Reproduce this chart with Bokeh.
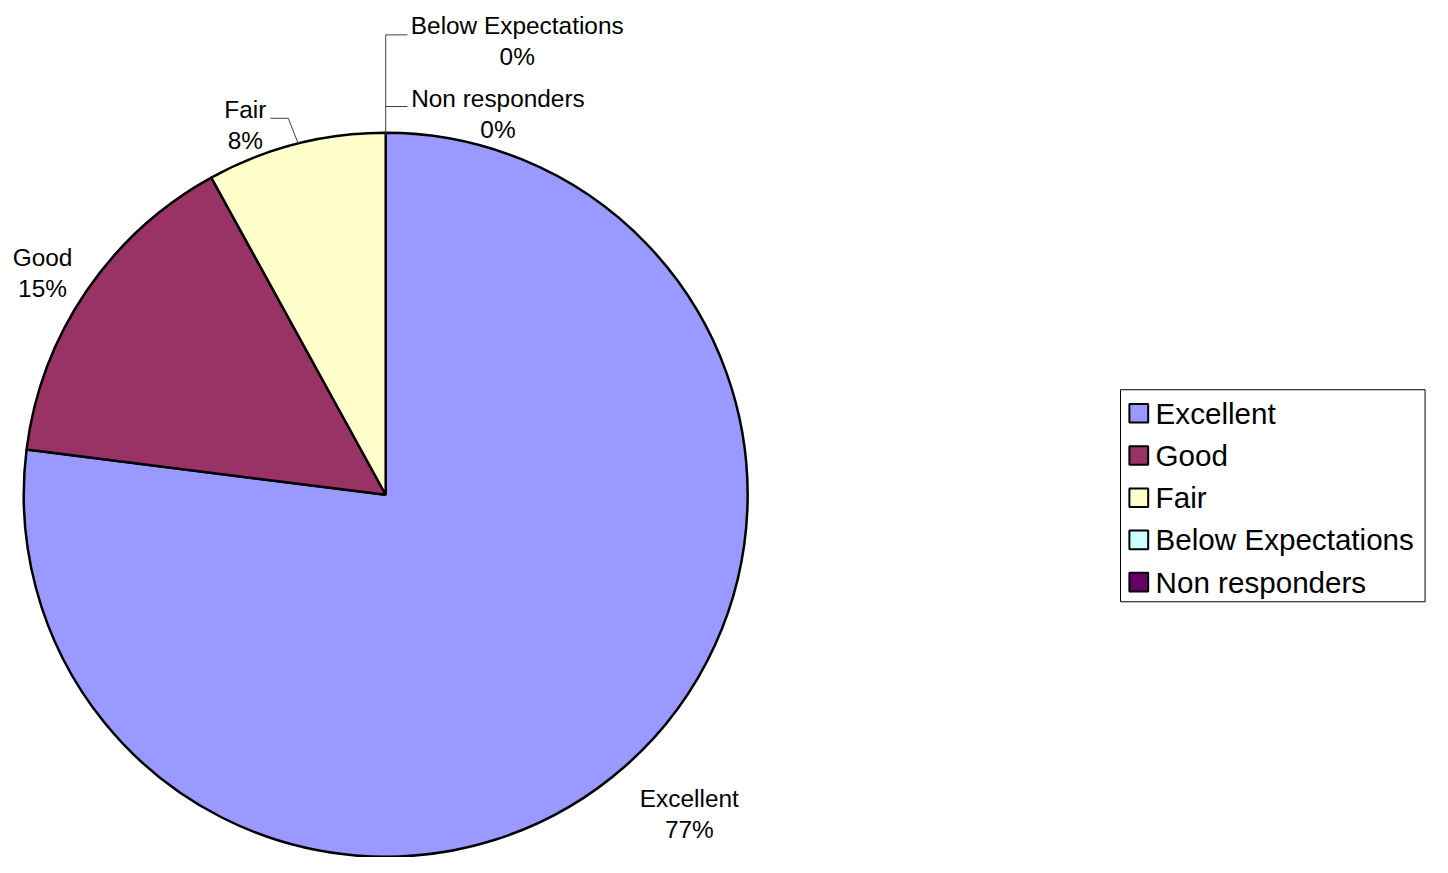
import math
from bokeh.plotting import figure
from bokeh.models import Range1d
from bokeh.core.properties import value
from bokeh.embed import file_html
from bokeh.resources import INLINE

# ---- data ----
categories = ["Excellent", "Good", "Fair", "Below Expectations", "Non responders"]
percents = [77, 15, 8, 0, 0]
colors = ["#9999FF", "#993366", "#FFFFCC", "#CCFFFF", "#660066"]

# ---- layout (reference image pixel coordinates, 1448 x 873) ----
W, H = 1432, 857
REF_W, REF_H = 1448, 873
def Y(sy):
    return REF_H - sy

cx, cy, R = 389.5, 503.5, 366.0
FONT = value("Liberation Sans")

# label anchors: centre x, first-line baseline
label_x = [696.5, 42.5, 247.5, 522.5, 503.0]
label_y = [813.0, 261.5, 111.5, 25.5, 100.0]
LINE_GAP = 31.5

p = figure(width=W, height=H, output_backend="svg", toolbar_location=None,
           x_range=Range1d(0, REF_W), y_range=Range1d(0, REF_H),
           min_border=0)
p.axis.visible = False
p.grid.visible = False
p.outline_line_color = None
p.background_fill_color = "white"

# wedges, clockwise from 12 o'clock
total = float(sum(percents))
start = math.pi / 2
starts, ends, wcols = [], [], []
for v, c in zip(percents, colors):
    a = 2 * math.pi * v / total
    if v > 0:
        starts.append(start)
        ends.append(start - a)
        wcols.append(c)
    start -= a
p.wedge(x=[cx] * len(starts), y=[Y(cy)] * len(starts), radius=R,
        start_angle=starts, end_angle=ends, direction="clock",
        fill_color=wcols, line_color="black", line_width=2.5)

# leader lines
top_y = cy - R
leaders_x = [[cx, cx, 411.5], [cx, 411.5], [301.5, 291.0, 273.0]]
leaders_y = [[Y(top_y), Y(35.0), Y(35.0)], [Y(108.0), Y(108.0)],
             [Y(147.0), Y(120.0), Y(120.0)]]
p.multi_line(xs=leaders_x, ys=leaders_y, line_color="#404040", line_width=1)

# data labels
pct_text = [f"{round(v / total * 100)}%" for v in percents]
p.text(x=label_x, y=[Y(v) for v in label_y], text=categories,
       text_align="center", text_baseline="alphabetic",
       text_font=FONT, text_font_size="24.4px", text_color="black")
p.text(x=label_x, y=[Y(v + LINE_GAP) for v in label_y], text=pct_text,
       text_align="center", text_baseline="alphabetic",
       text_font=FONT, text_font_size="24.4px", text_color="black")

# legend
lx0, lx1, ly0, ly1 = 1132.5, 1440.5, 396.5, 612.5
p.quad(left=[lx0], right=[lx1], top=[Y(ly0)], bottom=[Y(ly1)],
       fill_color="white", line_color="black", line_width=1)
row_y = [420.5 + 43.0 * i for i in range(len(categories))]
p.rect(x=[1151.0] * len(categories), y=[Y(v) for v in row_y], width=19, height=19,
       fill_color=colors, line_color="black", line_width=2)
p.text(x=[1168.0] * len(categories), y=[Y(v) for v in row_y], text=categories,
       text_align="left", text_baseline="middle",
       text_font=FONT, text_font_size="29.6px", text_color="black")

open("out.html", "w").write(file_html(p, INLINE))
